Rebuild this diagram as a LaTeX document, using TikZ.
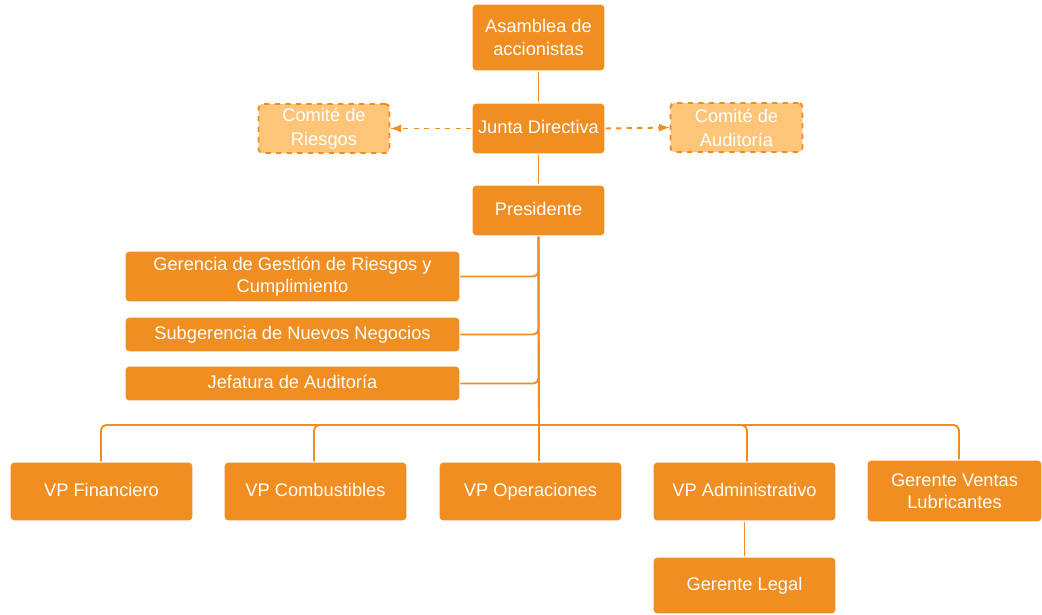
\documentclass[tikz,border=0pt]{standalone}
\usepackage{fontspec}
\setmainfont{Liberation Sans}
\definecolor{myOrange}{HTML}{F08E22}
\definecolor{myLight}{HTML}{FEC478}

\begin{document}
\begin{tikzpicture}[x=0.02cm, y=-0.02cm, >=latex, myOrange, line width=1.1pt]

  \tikzstyle{O}=[rectangle, rounded corners=2.3pt, fill=myOrange, draw=white, line width=0.6pt, text=white, align=center, inner sep=2pt, font=\fontsize{10.4}{12.6}\selectfont]
  \tikzstyle{S}=[text height=1.55ex, text depth=0.45ex]
  \tikzstyle{L}=[O, fill=myLight, draw=myOrange, dashed, line width=1.1pt, font=\fontsize{10.4}{13.8}\selectfont]
  \tikzstyle{E}=[rounded corners=3pt]

  \useasboundingbox (0,0) rectangle (1042,615);

  \node[O, minimum width=2.66cm, minimum height=1.34cm] at (538.5,37.5) (asamblea) {Asamblea de\\accionistas};
  \node[O, S, minimum width=2.66cm, minimum height=1.02cm] at (538.5,128.5) (junta) {Junta Directiva};
  \node[L, minimum width=2.62cm, minimum height=0.98cm] at (324,128.5) (riesgos) {Comité de\\Riesgos};
  \node[L, minimum width=2.64cm, minimum height=0.98cm] at (736.5,127.5) (auditoria) {Comité de\\Auditoría};
  \node[O, S, minimum width=2.66cm, minimum height=1.02cm] at (538.5,210.5) (presidente) {Presidente};

  \node[O, minimum width=6.7cm, minimum height=1.02cm] at (292.5,276.5) (gerencia) {Gerencia de Gestión de Riesgos y\\Cumplimiento};
  \node[O, S, minimum width=6.7cm, minimum height=0.7cm] at (292.5,334.5) (subgerencia) {Subgerencia de Nuevos Negocios};
  \node[O, S, minimum width=6.7cm, minimum height=0.7cm] at (292.5,383.5) (jefatura) {Jefatura de Auditoría};

  \node[O, S, minimum width=3.66cm, minimum height=1.18cm] at (101.5,491.5) (vpfin) {VP Financiero};
  \node[O, S, minimum width=3.66cm, minimum height=1.18cm] at (315.5,491.5) (vpcomb) {VP Combustibles};
  \node[O, S, minimum width=3.66cm, minimum height=1.18cm] at (530.5,491.5) (vpoper) {VP Operaciones};
  \node[O, S, minimum width=3.66cm, minimum height=1.18cm] at (744.5,491.5) (vpadmin) {VP Administrativo};
  \node[O, minimum width=3.5cm, minimum height=1.24cm] at (954.5,491) (ventas) {Gerente Ventas\\Lubricantes};
  \node[O, S, minimum width=3.66cm, minimum height=1.14cm] at (744.5,585.5) (legal) {Gerente Legal};

  \coordinate (bus) at (539,425);

  \draw (asamblea) -- (junta);
  \draw (junta) -- (presidente);
  \draw [->, dashed] (junta.west) -- (riesgos.east);
  \draw [->, dashed] (junta.east) -- (auditoria.west);

  \draw (presidente.south) -- (bus);
  \draw [E] (presidente.south) |- (gerencia.east);
  \draw [E] (presidente.south) |- (subgerencia.east);
  \draw [E] (presidente.south) |- (jefatura.east);

  \draw [E] (bus) -| (vpfin.north -| 101,0);
  \draw [E] (bus) -| (vpcomb.north -| 314,0);
  \draw (bus) -- (vpoper.north -| bus);
  \draw [E] (bus) -| (vpadmin.north -| 747,0);
  \draw [E] (bus) -| (ventas.north -| 959,0);
  \draw (vpadmin) -- (legal);

\end{tikzpicture}
\end{document}
